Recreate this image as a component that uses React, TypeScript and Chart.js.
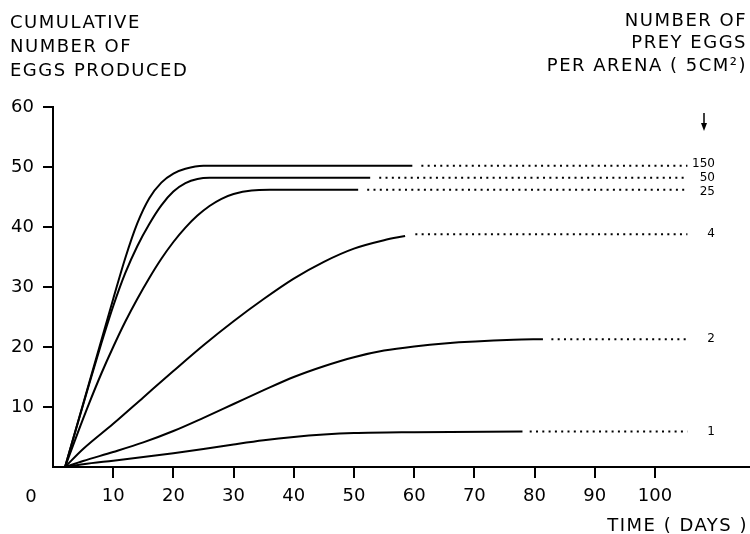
import React, { useEffect, useRef } from 'react';
import { Chart, registerables } from 'chart.js';

Chart.register(...registerables);

// ---- text ----
const yTitleLines = ['CUMULATIVE', 'NUMBER OF', 'EGGS PRODUCED'];
const keyTitleLines = ['NUMBER OF', 'PREY EGGS', 'PER ARENA ( 5CM\u00B2)'];
const xTitle = 'TIME ( DAYS )';
const originLabel = '0';

// ---- ticks ----
const xTicks = [10, 20, 30, 40, 50, 60, 70, 80, 90, 100];
const yTicks = [10, 20, 30, 40, 50, 60];

// ---- series (prey eggs per arena) ----
const seriesLabels = ['150', '50', '25', '4', '2', '1'];

const days150 = [2, 6, 10, 12, 14, 16, 18, 20, 22, 25, 59.7];
const eggs150 = [0, 14, 28, 34.8, 40.6, 44.8, 47.4, 48.9, 49.7, 50.2, 50.2];

const days50 = [2, 6, 8, 10, 12, 14, 16, 18, 20, 22, 24, 26, 52.7];
const eggs50 = [0, 13.8, 20.5, 26.8, 32.3, 36.8, 40.5, 43.6, 45.9, 47.3, 48.0, 48.2, 48.2];

const days25 = [2, 4, 6, 8, 10, 12, 14, 16, 18, 20, 22, 24, 26, 28, 30, 33, 36, 50.7];
const eggs25 = [0, 5.4, 10.6, 15.5, 20.0, 24.2, 28.0, 31.5, 34.7, 37.5, 39.9, 41.9, 43.5, 44.7, 45.5, 46.1, 46.2, 46.2];

const days4 = [2, 5, 10, 15, 20, 25, 30, 35, 40, 45, 50, 55, 58.5];
const eggs4 = [0, 3.0, 7.2, 11.6, 16.0, 20.3, 24.3, 28.0, 31.4, 34.2, 36.4, 37.8, 38.5];

const days2 = [2, 5, 10, 15, 20, 25, 30, 35, 40, 45, 50, 55, 60, 65, 76.5, 81.4];
const eggs2 = [0, 1.0, 2.5, 4.1, 6.0, 8.2, 10.5, 12.8, 15.0, 16.8, 18.3, 19.4, 20.1, 20.6, 21.2, 21.3];

const days1 = [2, 5, 10, 15, 20, 25, 30, 35, 40, 45, 50, 60, 78];
const eggs1 = [0, 0.45, 1.05, 1.65, 2.3, 3.0, 3.75, 4.45, 5.0, 5.4, 5.65, 5.8, 5.9];

// dotted continuations
const tailStart = [61.2, 54.2, 52.2, 60.2, 82.8, 79.2];
const tailEnd = [105.4, 105.4, 105.4, 105.4, 105.4, 105.4];
const tailLevel = [50.2, 48.2, 46.2, 38.8, 21.3, 5.9];

const solidDays = [days150, days50, days25, days4, days2, days1];
const solidEggs = [eggs150, eggs50, eggs25, eggs4, eggs2, eggs1];

const FONT = '"DejaVu Sans", "Liberation Sans", sans-serif';

const annotatePlugin = {
  id: 'annotate',
  afterDraw(chart: any) {
    const ctx = chart.ctx as CanvasRenderingContext2D;
    const ys = chart.scales.y;
    ctx.save();
    ctx.fillStyle = '#000';
    ctx.strokeStyle = '#000';
    ctx.textBaseline = 'middle';

    // corner titles
    ctx.font = `18px ${FONT}`;
    (ctx as any).letterSpacing = '1.5px';
    ctx.textAlign = 'left';
    const leftY = [23, 47, 71];
    yTitleLines.forEach((t, i) => ctx.fillText(t, 10, leftY[i]));
    ctx.textAlign = 'right';
    const rightY = [21, 43, 66];
    keyTitleLines.forEach((t, i) => ctx.fillText(t, 747, rightY[i]));
    ctx.fillText(xTitle, 748, 526);
    (ctx as any).letterSpacing = '0px';

    // origin label
    ctx.textAlign = 'center';
    ctx.fillText(originLabel, 31, 497);

    // series labels
    ctx.font = `12px ${FONT}`;
    ctx.textAlign = 'right';
    const dy = [-1.5, 0, 2.5, 0, 0, 0];
    seriesLabels.forEach((t, i) => {
      ctx.fillText(t, 715, ys.getPixelForValue(tailLevel[i]) + dy[i]);
    });

    // arrow
    const ax = 704;
    ctx.lineWidth = 1.5;
    ctx.beginPath();
    ctx.moveTo(ax, 113);
    ctx.lineTo(ax, 125);
    ctx.stroke();
    ctx.beginPath();
    ctx.moveTo(ax - 3, 123);
    ctx.lineTo(ax + 3, 123);
    ctx.lineTo(ax, 131);
    ctx.closePath();
    ctx.fill();
    ctx.restore();
  },
};

export default function App() {
  const ref = useRef<HTMLCanvasElement | null>(null);

  useEffect(() => {
    document.body.style.margin = '0';
    if (!ref.current) return;
    const datasets: any[] = [];
    solidDays.forEach((d, i) => {
      datasets.push({
        label: seriesLabels[i],
        data: d.map((x, j) => ({ x, y: solidEggs[i][j] })),
        borderColor: '#000',
        borderWidth: 2,
        pointRadius: 0,
        fill: false,
        cubicInterpolationMode: 'monotone',
      });
      datasets.push({
        label: seriesLabels[i] + ' (dotted)',
        data: [
          { x: tailStart[i], y: tailLevel[i] },
          { x: tailEnd[i], y: tailLevel[i] },
        ],
        borderColor: '#000',
        borderWidth: 2,
        borderDash: [2, 4.3],
        pointRadius: 0,
        fill: false,
      });
    });

    const chart = new Chart(ref.current, {
      type: 'line',
      data: { datasets },
      options: {
        responsive: false,
        animation: false,
        layout: { padding: { top: 107, left: 0, right: 0, bottom: 0 } },
        plugins: { legend: { display: false }, tooltip: { enabled: false } },
        scales: {
          x: {
            type: 'linear',
            min: 0,
            max: 115.8,
            afterFit: (s: any) => { s.height = 67; },
            afterBuildTicks: (s: any) => { s.ticks = xTicks.map((v) => ({ value: v })); },
            border: { display: true, color: '#000', width: 2 },
            grid: { drawOnChartArea: false, drawTicks: true, tickLength: 11, color: '#000', lineWidth: 2 },
            ticks: { color: '#000', font: { family: FONT, size: 18 }, padding: 8, maxRotation: 0, autoSkip: false },
          },
          y: {
            type: 'linear',
            min: 0,
            max: 60,
            afterFit: (s: any) => { s.width = 53; },
            afterBuildTicks: (s: any) => { s.ticks = yTicks.map((v) => ({ value: v })); },
            border: { display: true, color: '#000', width: 2 },
            grid: { drawOnChartArea: false, drawTicks: true, tickLength: 10, color: '#000', lineWidth: 2 },
            ticks: { color: '#000', font: { family: FONT, size: 18 }, padding: 9 },
          },
        },
      },
      plugins: [annotatePlugin],
    });
    return () => chart.destroy();
  }, []);

  return (
    <div style={{ position: 'fixed', left: 0, top: 0, width: 750, height: 534, background: '#fff' }}>
      <canvas ref={ref} width={750} height={534} style={{ width: 750, height: 534 }} />
    </div>
  );
}
